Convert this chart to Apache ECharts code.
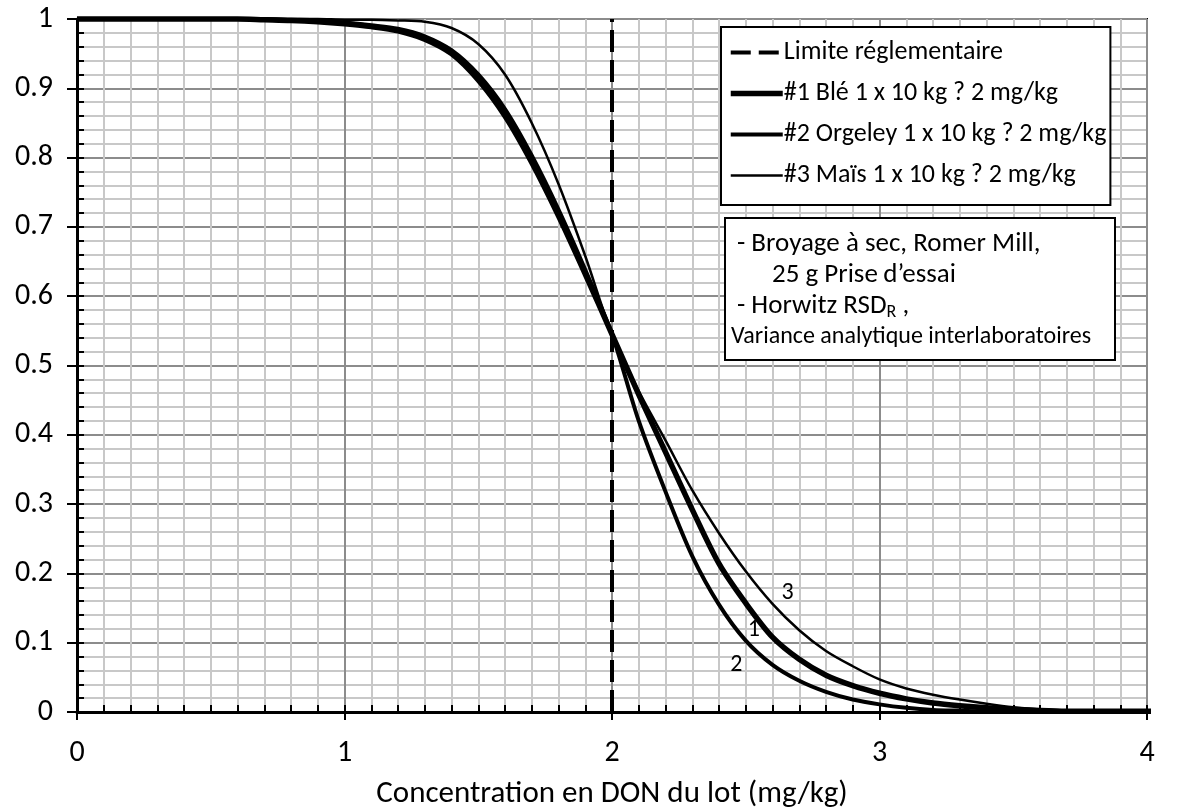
<!DOCTYPE html>
<html>
<head>
<meta charset="utf-8">
<script src="https://cdn.jsdelivr.net/npm/echarts@6/dist/echarts.min.js"></script>
<style>
html,body{margin:0;padding:0;background:#fff;}
#c{width:1197px;height:809px;}
</style>
</head>
<body>
<div id="c"></div>
<script>
// ---- data ----
const xValues = [0,0.1,0.2,0.3,0.4,0.5,0.6,0.7,0.8,0.9,1.0,1.1,1.2,1.3,1.4,1.5,1.6,1.7,1.8,1.9,2.0,2.1,2.2,2.3,2.4,2.5,2.6,2.7,2.8,2.9,3.0,3.1,3.2,3.3,3.4,3.5,3.6,3.7,3.8,3.9,4.0,4.1,4.2];
const seriesNames = ['Limite réglementaire','#1 Blé 1 x 10 kg ? 2 mg/kg','#2 Orgeley 1 x 10 kg ? 2 mg/kg','#3 Maïs 1 x 10 kg ? 2 mg/kg'];
const ble     = [1,1,1,1,1,1,1,0.999,0.998,0.996,0.993,0.989,0.983,0.971,0.95,0.912,0.86,0.793,0.716,0.632,0.545,0.458,0.375,0.292,0.214,0.157,0.108,0.076,0.053,0.038,0.027,0.019,0.013,0.009,0.006,0.004,0.002,0.001,0.001,0.001,0.001,0.001,0.001];
const orgeley = [1,1,1,1,1,1,1,1,0.999,0.998,0.995,0.991,0.986,0.975,0.955,0.92,0.87,0.803,0.725,0.638,0.545,0.42,0.318,0.225,0.155,0.103,0.068,0.045,0.029,0.018,0.011,0.006,0.003,0.002,0.001,0.001,0.001,0.001,0.001,0.001,0.001,0.001,0.001];
const mais    = [1,1,1,1,1,1,1,1,1,1,0.999,0.999,0.998,0.996,0.987,0.964,0.92,0.85,0.762,0.658,0.545,0.463,0.392,0.32,0.258,0.203,0.156,0.118,0.088,0.066,0.047,0.034,0.025,0.018,0.012,0.007,0.004,0.002,0.001,0.001,0.001,0.001,0.001];
const limitX = 2;
const limitY = [0, 1];
const tagText = ['1','2','3'];
const tagX = [2.53, 2.465, 2.656];
const tagY = [0.118, 0.068, 0.172];
const xTicks = ['0','1','2','3','4'];
const yTicks = ['0','0.1','0.2','0.3','0.4','0.5','0.6','0.7','0.8','0.9','1'];
const xTitle = 'Concentration en DON du lot (mg/kg)';

const FONT = 'Carlito, Lato, sans-serif';
const pair = arr => xValues.map((x,i)=>[x,arr[i]]);
const widths = [4, 5.5, 4, 2.5];

const chart = echarts.init(document.getElementById('c'), null, {renderer:'canvas'});
const lineBase = {type:'line', showSymbol:false, symbol:'none', smooth:0.3, clip:false, z:5, xAxisIndex:0, yAxisIndex:0};

const boxGraphics = [
  {type:'rect',left:724,top:217,z:20,shape:{width:390,height:142},style:{fill:'#fff',stroke:'#000',lineWidth:2}},
  {type:'text',left:737,top:231,z:21,style:{text:'- Broyage à sec, Romer Mill,',font:'27px '+FONT,fill:'#000'}},
  {type:'text',left:772,top:262,z:21,style:{text:'25 g Prise\u2009d\u2019essai',font:'27px '+FONT,fill:'#000'}},
  {type:'text',left:737,top:293,z:21,style:{text:'- Horwitz RSD{sub|R} ,',font:'27px '+FONT,fill:'#000',
      rich:{sub:{fontSize:18,fontFamily:FONT,fill:'#000',padding:[12,0,0,0]}}}},
  {type:'text',left:731,top:325,z:21,style:{text:'Variance analytique interlaboratoires',font:'24px '+FONT,fill:'#000'}}
];

chart.setOption({
  animation:false,
  backgroundColor:'#fff',
  textStyle:{fontFamily:FONT},
  grid:{left:77,right:50,top:19,bottom:97,show:true,borderColor:'#000',borderWidth:2,backgroundColor:'#fff',
        containLabel:false,outerBoundsMode:'none'},
  legend:{
    data:seriesNames.map((n,i)=>({name:n,
      lineStyle:{width:widths[i],type:i===0?[20,8]:'solid',color:'#000'},
      itemStyle:{opacity:0,color:'rgba(0,0,0,0)',borderWidth:0}})),
    orient:'vertical',
    left:721, top:27,
    padding:[11,4,15,7],
    itemWidth:52, itemHeight:14, itemGap:12,
    backgroundColor:'#fff', borderColor:'#000', borderWidth:2, borderRadius:0,
    textStyle:{fontFamily:FONT,fontSize:26,color:'#000',lineHeight:29,padding:[0,0,0,-4]},
    selectedMode:false, z:10
  },
  xAxis:[
    {type:'value',min:0,max:4,interval:1,position:'bottom',
     axisLine:{show:true,onZero:false,lineStyle:{color:'#000',width:3}},
     axisTick:{show:true,inside:false,length:8,lineStyle:{color:'#000',width:2}},
     axisLabel:{fontFamily:FONT,fontSize:30,color:'#000',margin:26,formatter:(v)=>xTicks[Math.round(v)]},
     splitLine:{show:true,lineStyle:{color:'#8c8c8c',width:2}},
     minorTick:{show:false,splitNumber:10},
     minorSplitLine:{show:true,lineStyle:{color:'#c8c8c8',width:2}},
     name:xTitle,nameLocation:'middle',nameGap:67,
     nameTextStyle:{fontFamily:FONT,fontSize:31,color:'#000'}, z:3},
    {type:'value',min:0,max:4,interval:0.1,position:'bottom',
     axisLine:{show:false},axisLabel:{show:false},splitLine:{show:false},
     axisTick:{show:true,inside:true,length:7,lineStyle:{color:'#000',width:2}}, z:3}
  ],
  yAxis:[
    {type:'value',min:0,max:1,interval:0.1,position:'left',
     axisLine:{show:true,onZero:false,lineStyle:{color:'#000',width:3}},
     axisTick:{show:true,inside:false,length:10,lineStyle:{color:'#000',width:2}},
     axisLabel:{fontFamily:FONT,fontSize:30,color:'#000',margin:24,formatter:(v)=>yTicks[Math.round(v*10)]},
     splitLine:{show:true,lineStyle:{color:'#8c8c8c',width:2}},
     minorTick:{show:false,splitNumber:5},
     minorSplitLine:{show:true,lineStyle:{color:'#c8c8c8',width:2}}, z:3},
    {type:'value',min:0,max:1,interval:0.02,position:'left',
     axisLine:{show:false},axisLabel:{show:false},splitLine:{show:false},
     axisTick:{show:true,inside:true,length:7,lineStyle:{color:'#000',width:2}}, z:3}
  ],
  series:[
    Object.assign({},lineBase,{name:seriesNames[0],smooth:false,data:limitY.map(y=>[limitX,y]),
      lineStyle:{color:'#000',width:widths[0],type:[22,8]},itemStyle:{color:'#000'},z:6}),
    Object.assign({},lineBase,{name:seriesNames[1],data:pair(ble),lineStyle:{color:'#000',width:widths[1]},itemStyle:{color:'#000'}}),
    Object.assign({},lineBase,{name:seriesNames[2],data:pair(orgeley),lineStyle:{color:'#000',width:widths[2]},itemStyle:{color:'#000'}}),
    Object.assign({},lineBase,{name:seriesNames[3],data:pair(mais),lineStyle:{color:'#000',width:widths[3]},itemStyle:{color:'#000'}})
  ],
  graphic: boxGraphics
});

// curve number tags, positioned through the chart's own scales
const tagGraphics = tagText.map((t,i)=>{
  const p = chart.convertToPixel({xAxisIndex:0,yAxisIndex:0},[tagX[i],tagY[i]]);
  return {type:'text',x:p[0],y:p[1],z:22,style:{text:t,font:'24px '+FONT,fill:'#000',align:'center',verticalAlign:'middle'}};
});
chart.setOption({graphic: boxGraphics.concat(tagGraphics)});
</script>
</body>
</html>
